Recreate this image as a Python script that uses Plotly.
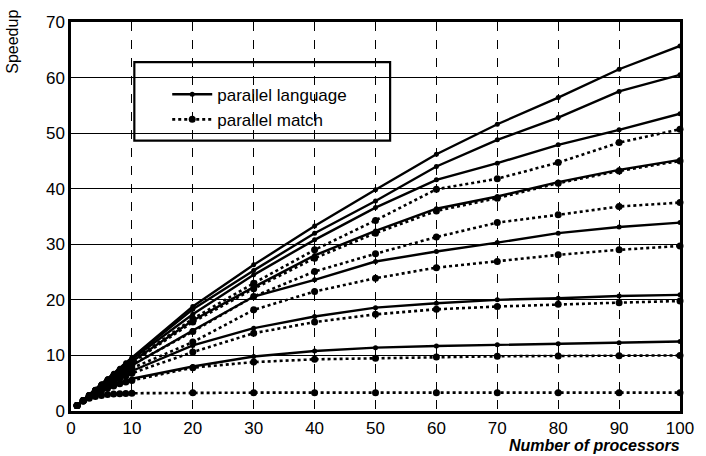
import plotly.graph_objects as go

processors = [1, 2, 3, 4, 5, 6, 7, 8, 9, 10, 20, 30, 40, 50, 60, 70, 80, 90, 100]

# parallel language (solid)
lang_1 = [1, 2, 2.9, 3.9, 4.9, 5.8, 6.8, 7.7, 8.7, 9.6, 18.8, 26.3, 33.3, 39.8, 46.2, 51.6, 56.4, 61.5, 65.7]
lang_2 = [1, 2, 2.9, 3.9, 4.8, 5.8, 6.7, 7.6, 8.6, 9.5, 18.3, 25.3, 32.0, 37.8, 44.0, 48.8, 52.8, 57.5, 60.5]
lang_3 = [1, 1.9, 2.9, 3.8, 4.8, 5.7, 6.6, 7.5, 8.4, 9.3, 17.4, 24.5, 30.8, 36.6, 41.6, 44.6, 47.9, 50.6, 53.5]
lang_4 = [1, 1.9, 2.8, 3.7, 4.6, 5.5, 6.4, 7.2, 8.0, 8.9, 16.3, 22.3, 28.0, 32.4, 36.4, 38.6, 41.2, 43.4, 45.2]
lang_5 = [1, 1.9, 2.8, 3.6, 4.4, 5.2, 6.0, 6.8, 7.5, 8.2, 14.5, 20.6, 23.6, 26.9, 28.7, 30.3, 32.0, 33.1, 33.9]
lang_6 = [1, 1.9, 2.7, 3.4, 4.1, 4.8, 5.4, 6.0, 6.6, 7.2, 11.8, 14.9, 17.0, 18.6, 19.4, 20.0, 20.3, 20.7, 20.9]
lang_7 = [1, 1.8, 2.5, 3.1, 3.7, 4.2, 4.6, 5.0, 5.4, 5.8, 8.0, 9.8, 10.8, 11.4, 11.7, 11.9, 12.1, 12.3, 12.5]

# parallel match (dotted)
match_1 = [1, 1.9, 2.8, 3.7, 4.6, 5.5, 6.4, 7.3, 8.1, 9.0, 16.6, 23.0, 29.0, 34.3, 39.9, 41.8, 44.7, 48.3, 50.7]
match_2 = [1, 1.9, 2.8, 3.7, 4.6, 5.4, 6.3, 7.1, 7.9, 8.7, 16.0, 22.0, 27.5, 32.0, 36.0, 38.3, 41.0, 43.2, 45.0]
match_3 = [1, 1.9, 2.8, 3.6, 4.4, 5.2, 6.0, 6.8, 7.5, 8.3, 14.3, 20.6, 25.1, 28.3, 31.3, 33.9, 35.3, 36.8, 37.5]
match_4 = [1, 1.9, 2.7, 3.5, 4.3, 5.0, 5.7, 6.4, 7.0, 7.7, 12.4, 18.2, 21.5, 23.9, 25.8, 26.9, 28.1, 29.0, 29.7]
match_5 = [1, 1.8, 2.6, 3.3, 4.0, 4.6, 5.2, 5.8, 6.3, 6.8, 10.6, 14.0, 16.0, 17.4, 18.3, 18.8, 19.2, 19.5, 19.8]
match_6 = [1, 1.8, 2.5, 3.1, 3.6, 4.1, 4.5, 4.9, 5.2, 5.5, 7.8, 8.8, 9.3, 9.5, 9.7, 9.85, 9.9, 9.95, 10.0]
match_7 = [1, 1.8, 2.3, 2.6, 2.8, 2.95, 3.05, 3.1, 3.15, 3.2, 3.3, 3.3, 3.3, 3.3, 3.3, 3.3, 3.3, 3.3, 3.3]

lang_series = [lang_1, lang_2, lang_3, lang_4, lang_5, lang_6, lang_7]
match_series = [match_1, match_2, match_3, match_4, match_5, match_6, match_7]

x_ticks = [0, 10, 20, 30, 40, 50, 60, 70, 80, 90, 100]
y_ticks = [0, 10, 20, 30, 40, 50, 60, 70]

FONT = "Liberation Sans, Arial, sans-serif"

fig = go.Figure()

for i, ys in enumerate(match_series):
    fig.add_trace(go.Scatter(
        x=processors, y=ys, mode="lines+markers",
        name="parallel match", legendgroup="match", showlegend=(i == 0),
        line=dict(color="black", width=2.6, dash="dot"),
        marker=dict(color="black", size=7),
        cliponaxis=False,
    ))

for i, ys in enumerate(lang_series):
    fig.add_trace(go.Scatter(
        x=processors, y=ys, mode="lines+markers",
        name="parallel language", legendgroup="lang", showlegend=(i == 0),
        line=dict(color="black", width=2.4),
        marker=dict(color="black", size=5),
        cliponaxis=False,
    ))

fig.update_layout(
    width=706, height=456,
    margin=dict(l=71, r=18, t=22, b=45),
    paper_bgcolor="white", plot_bgcolor="white",
    font=dict(family=FONT, color="black", size=17),
    legend=dict(
        x=0.158, y=0.781, xanchor="left", yanchor="middle",
        bgcolor="rgba(0,0,0,0)", borderwidth=0,
        font=dict(size=17, family=FONT),
        traceorder="reversed", tracegroupgap=0,
        itemwidth=40,
    ),
    xaxis=dict(
        range=[0, 100], tickvals=x_ticks, ticks="",
        showgrid=True, gridcolor="black", gridwidth=0.8, griddash="dash",
        showline=True, linecolor="black", linewidth=2.5, mirror=True,
        zeroline=False, tickfont=dict(size=17, family=FONT),
    ),
    yaxis=dict(
        range=[0, 70], tickvals=y_ticks, ticks="",
        showgrid=True, gridcolor="black", gridwidth=1.3,
        showline=True, linecolor="black", linewidth=2.5, mirror=True,
        zeroline=False, tickfont=dict(size=17, family=FONT),
    ),
    shapes=[dict(
        type="rect", xref="paper", yref="paper",
        x0=0.104, x1=0.524, y0=0.695, y1=0.897,
        line=dict(color="black", width=2.2), fillcolor="rgba(0,0,0,0)",
        layer="above",
    )],
    annotations=[
        dict(text="Speedup", xref="paper", yref="paper", x=-0.0956, y=1.036,
             xanchor="center", yanchor="top", textangle=-90, showarrow=False,
             font=dict(size=16, family=FONT)),
        dict(text="<b><i>Number of processors</i></b>", xref="paper", yref="paper",
             x=1.003, y=-0.062, xanchor="right", yanchor="top", showarrow=False,
             font=dict(size=16, family=FONT)),
    ],
)

fig.write_html("out.html", config={"displayModeBar": False},
               post_script="document.body.style.margin='0px';")
